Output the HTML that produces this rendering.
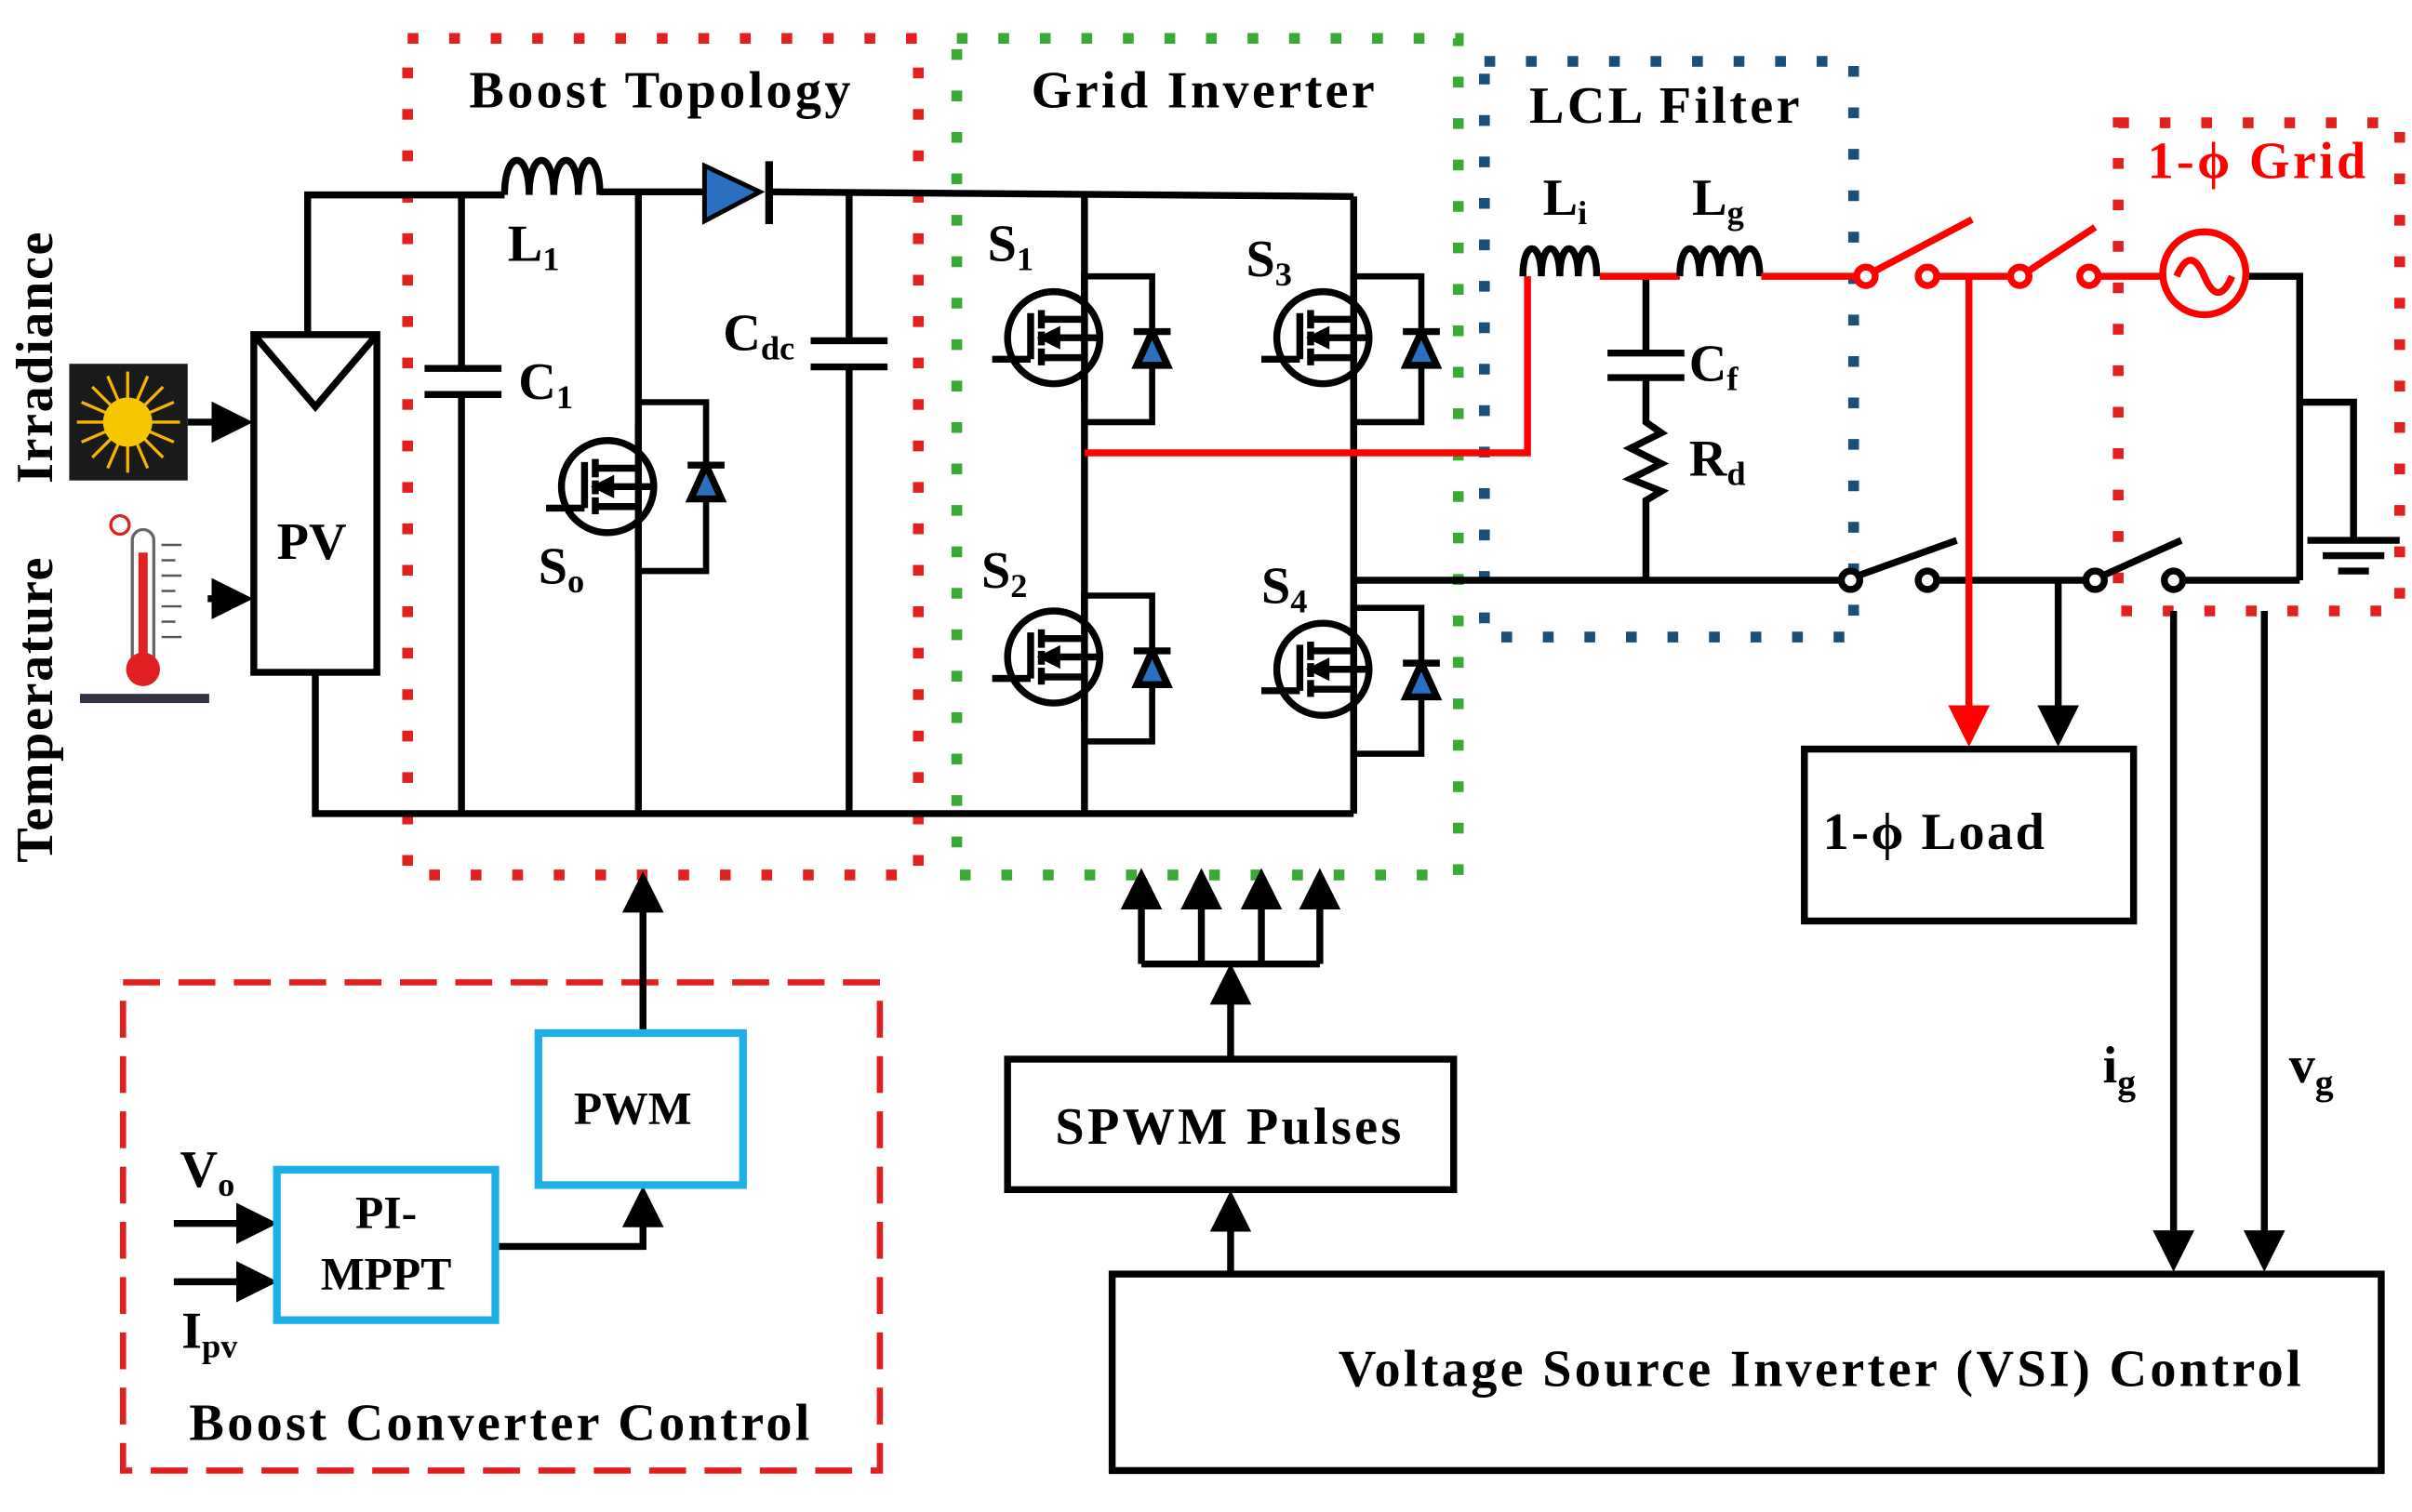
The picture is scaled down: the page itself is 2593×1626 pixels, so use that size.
<!DOCTYPE html>
<html><head><style>html,body{margin:0;padding:0;background:#fff}svg{display:block}text{font-family:"Liberation Serif",serif;font-weight:bold}</style></head>
<body>
<svg width="2593" height="1626" viewBox="0 0 1568 985" preserveAspectRatio="none" xmlns="http://www.w3.org/2000/svg">
<defs>
<marker id="ar" markerWidth="6" markerHeight="6" refX="5" refY="3" orient="auto" markerUnits="strokeWidth"><path d="M0,0 L6,3 L0,6 z" fill="#000"/></marker>
<marker id="arr" markerWidth="6" markerHeight="6" refX="5" refY="3" orient="auto" markerUnits="strokeWidth"><path d="M0,0 L6,3 L0,6 z" fill="#f00"/></marker>
<g id="sw" fill="none" stroke="#000" stroke-width="4.5">
<circle cx="-20" cy="0" r="30" fill="#fff"/>
<line x1="-60" y1="14" x2="-35" y2="14"/>
<line x1="-35" y1="-16" x2="-35" y2="14"/>
<line x1="-28" y1="-18" x2="-28" y2="-6"/><line x1="-28" y1="-4" x2="-28" y2="5"/><line x1="-28" y1="7" x2="-28" y2="18"/>
<line x1="-28" y1="-12" x2="0" y2="-12"/><line x1="-28" y1="0" x2="8" y2="0"/><line x1="-28" y1="13" x2="0" y2="13"/>
<path d="M-18,-4 L-26,0 L-18,4 z" fill="#000"/>
<line x1="0" y1="-42" x2="0" y2="42"/>
<polyline points="0,-40 44,-40 44,55 0,55" stroke-width="4"/>
<path d="M34,18 L54,18 L44,-4 z" fill="#2a6fc0"/>
<line x1="32" y1="-4" x2="56" y2="-4"/>
</g>
<g id="sw2" fill="none" stroke="#000" stroke-width="4.5">
<circle cx="-20" cy="0" r="30" fill="#fff"/>
<line x1="-60" y1="14" x2="-35" y2="14"/>
<line x1="-35" y1="-16" x2="-35" y2="14"/>
<line x1="-28" y1="-18" x2="-28" y2="-6"/><line x1="-28" y1="-4" x2="-28" y2="5"/><line x1="-28" y1="7" x2="-28" y2="18"/>
<line x1="-28" y1="-12" x2="0" y2="-12"/><line x1="-28" y1="0" x2="8" y2="0"/><line x1="-28" y1="13" x2="0" y2="13"/>
<path d="M-18,-4 L-26,0 L-18,4 z" fill="#000"/>
<line x1="0" y1="-42" x2="0" y2="42"/>
<polyline points="0,-55 44,-55 44,55 0,55" stroke-width="4"/>
<path d="M34,8 L54,8 L44,-14 z" fill="#2a6fc0"/>
<line x1="32" y1="-14" x2="56" y2="-14"/>
</g>
</defs>

<g fill="none" stroke-width="7" stroke-dasharray="7 20">
<rect x="265" y="25" width="332" height="545" stroke="#e32020"/>
<rect x="622" y="25" width="326" height="545" stroke="#3aa935"/>
<rect x="965" y="40" width="240" height="375" stroke="#1a4f7a"/>
<rect x="1377" y="80" width="183" height="318" stroke="#e32020"/>
</g>
<rect x="80" y="640" width="492" height="318" fill="none" stroke="#e02020" stroke-width="4" stroke-dasharray="24 12"/>

<g font-size="34" text-anchor="middle" letter-spacing="2">
<text x="430" y="70">Boost Topology</text>
<text x="783" y="70">Grid Inverter</text>
<text x="1083" y="80">LCL Filter</text>
<text x="1468" y="116" fill="#f00">1-ϕ Grid</text>
</g>

<g stroke="#000" stroke-width="4.5" fill="none">
<polyline points="200,218 200,127 328,127"/>
<line x1="390" y1="125" x2="458" y2="125"/>
<line x1="500" y1="125" x2="880" y2="128"/>
<polyline points="205,438 205,530 880,530"/>
<line x1="880" y1="128" x2="880" y2="530"/>
<line x1="705" y1="127" x2="705" y2="530"/>
<line x1="415" y1="127" x2="415" y2="530"/>
<path d="M328,127 c0,-30 16,-30 16,0 c0,-30 16,-30 16,0 c0,-30 16,-30 16,0 c0,-30 14,-30 14,0"/>
<line x1="300" y1="127" x2="300" y2="240"/><line x1="300" y1="257" x2="300" y2="530"/>
<line x1="276" y1="240" x2="326" y2="240"/><line x1="276" y1="257" x2="326" y2="257"/>
<line x1="552" y1="127" x2="552" y2="222"/><line x1="552" y1="239" x2="552" y2="530"/>
<line x1="527" y1="222" x2="577" y2="222"/><line x1="527" y1="239" x2="577" y2="239"/>
<rect x="165" y="218" width="80" height="220"/>
<polyline points="165,218 205,265 245,218"/>
<line x1="122" y1="275" x2="160" y2="275" marker-end="url(#ar)"/>
<line x1="135" y1="390" x2="160" y2="390" marker-end="url(#ar)"/>
<line x1="880" y1="378" x2="1203" y2="378"/>
<line x1="1253" y1="378" x2="1362" y2="378"/>
<line x1="1413" y1="378" x2="1495" y2="378"/>
<polyline points="1460,180 1495,180 1495,378"/>
<polyline points="1495,262 1530,262 1530,350"/>
<line x1="1500" y1="352" x2="1560" y2="352"/><line x1="1510" y1="362" x2="1550" y2="362"/><line x1="1520" y1="372" x2="1540" y2="372"/>
<line x1="1070" y1="180" x2="1070" y2="230"/>
<line x1="1045" y1="230" x2="1095" y2="230"/><line x1="1045" y1="246" x2="1095" y2="246"/>
<polyline points="1070,246 1070,275 1080,282 1060,292 1080,302 1060,312 1080,320 1070,326 1070,378"/>
<circle cx="1203" cy="378" r="6" fill="#fff"/><circle cx="1253" cy="378" r="6" fill="#fff"/>
<line x1="1208" y1="375" x2="1272" y2="352"/>
<circle cx="1362" cy="378" r="6" fill="#fff"/><circle cx="1413" cy="378" r="6" fill="#fff"/>
<line x1="1367" y1="375" x2="1418" y2="352"/>
<line x1="1338" y1="378" x2="1338" y2="482" marker-end="url(#ar)"/>
<line x1="1413" y1="398" x2="1413" y2="824" marker-end="url(#ar)"/>
<line x1="1472" y1="398" x2="1472" y2="824" marker-end="url(#ar)"/>
<rect x="1173" y="488" width="214" height="112"/>
<rect x="723" y="830" width="825" height="128"/>
<rect x="655" y="690" width="290" height="85"/>
<line x1="800" y1="830" x2="800" y2="780" marker-end="url(#ar)"/>
<line x1="800" y1="690" x2="800" y2="632" marker-end="url(#ar)"/>
<line x1="742" y1="628" x2="858" y2="628"/>
<line x1="742" y1="628" x2="742" y2="570" marker-end="url(#ar)"/>
<line x1="781" y1="628" x2="781" y2="570" marker-end="url(#ar)"/>
<line x1="820" y1="628" x2="820" y2="570" marker-end="url(#ar)"/>
<line x1="858" y1="628" x2="858" y2="570" marker-end="url(#ar)"/>
<line x1="418" y1="673" x2="418" y2="572" marker-end="url(#ar)"/>
<polyline points="322,812 418,812 418,777" marker-end="url(#ar)"/>
<line x1="113" y1="797" x2="176" y2="797" marker-end="url(#ar)"/>
<line x1="113" y1="835" x2="176" y2="835" marker-end="url(#ar)"/>
</g>
<path d="M458,108 L458,144 L494,125 z" fill="#2a6fc0" stroke="#000" stroke-width="3"/>
<line x1="500" y1="105" x2="500" y2="146" stroke="#000" stroke-width="5"/>
<rect x="350" y="673" width="133" height="99" fill="none" stroke="#1eaee8" stroke-width="5"/>
<rect x="180" y="762" width="142" height="98" fill="none" stroke="#1eaee8" stroke-width="5"/>

<use href="#sw2" x="415" y="317"/>
<use href="#sw" x="705" y="220"/>
<use href="#sw" x="705" y="428"/>
<use href="#sw" x="880" y="220"/>
<use href="#sw" x="880" y="436"/>

<g stroke="#f00" stroke-width="4.5" fill="none">
<polyline points="705,295 993,295 993,180"/>
<path d="M990,180 c0,-24 12,-24 12,0 c0,-24 12,-24 12,0 c0,-24 12,-24 12,0 c0,-24 12,-24 12,0" stroke="#000"/>
<line x1="1040" y1="180" x2="1092" y2="180"/>
<path d="M1092,180 c0,-24 13,-24 13,0 c0,-24 13,-24 13,0 c0,-24 13,-24 13,0 c0,-24 13,-24 13,0" stroke="#000"/>
<line x1="1145" y1="180" x2="1208" y2="180"/>
<line x1="1259" y1="180" x2="1308" y2="180"/>
<line x1="1363" y1="180" x2="1406" y2="180"/>
<circle cx="1213" cy="180" r="6" fill="#fff"/><circle cx="1253" cy="180" r="6" fill="#fff"/>
<line x1="1218" y1="177" x2="1282" y2="143"/>
<circle cx="1313" cy="180" r="6" fill="#fff"/><circle cx="1358" cy="180" r="6" fill="#fff"/>
<line x1="1318" y1="177" x2="1362" y2="148"/>
<circle cx="1433" cy="178" r="27" fill="#fff"/>
<path d="M1415,180 c6,-14 12,-14 18,0 c6,14 12,14 18,0"/>
<line x1="1280" y1="180" x2="1280" y2="482" marker-end="url(#arr)"/>
</g>

<rect x="45" y="237" width="77" height="76" fill="#1a1a1a"/>
<g stroke="#f7b500" stroke-width="2">
<line x1="50" y1="275" x2="117" y2="275"/><line x1="83" y1="242" x2="83" y2="308"/>
<line x1="60" y1="252" x2="106" y2="298"/><line x1="106" y1="252" x2="60" y2="298"/>
<line x1="53" y1="262" x2="113" y2="288"/><line x1="53" y1="288" x2="113" y2="262"/>
<line x1="70" y1="245" x2="96" y2="305"/><line x1="96" y1="245" x2="70" y2="305"/>
</g>
<circle cx="83" cy="275" r="16" fill="#f7c600"/>
<rect x="86" y="345" width="14" height="90" rx="7" fill="#fff" stroke="#666" stroke-width="2"/>
<rect x="90" y="360" width="6" height="75" fill="#e02020"/>
<circle cx="93" cy="436" r="11" fill="#e02020"/>
<circle cx="78" cy="342" r="6" fill="none" stroke="#e02020" stroke-width="2"/>
<g stroke="#555" stroke-width="1.5"><line x1="105" y1="355" x2="118" y2="355"/><line x1="105" y1="365" x2="114" y2="365"/><line x1="105" y1="375" x2="118" y2="375"/><line x1="105" y1="385" x2="114" y2="385"/><line x1="105" y1="395" x2="118" y2="395"/><line x1="105" y1="405" x2="114" y2="405"/><line x1="105" y1="415" x2="118" y2="415"/></g>
<rect x="52" y="452" width="84" height="6" fill="#334"/>

<g font-size="34">
<text transform="translate(34,315) rotate(-90)" letter-spacing="1">Irradiance</text>
<text transform="translate(34,562) rotate(-90)" letter-spacing="1">Temperature</text>
<text x="180" y="364">PV</text>
<text x="330" y="170">L<tspan font-size="22" dy="6">1</tspan></text>
<text x="337" y="260">C<tspan font-size="22" dy="6">1</tspan></text>
<text x="350" y="380">S<tspan font-size="22" dy="6">o</tspan></text>
<text x="470" y="228">C<tspan font-size="22" dy="6">dc</tspan></text>
<text x="642" y="170">S<tspan font-size="22" dy="6">1</tspan></text>
<text x="810" y="180">S<tspan font-size="22" dy="6">3</tspan></text>
<text x="638" y="383">S<tspan font-size="22" dy="6">2</tspan></text>
<text x="820" y="393">S<tspan font-size="22" dy="6">4</tspan></text>
<text x="1003" y="140">L<tspan font-size="22" dy="6">i</tspan></text>
<text x="1100" y="140">L<tspan font-size="22" dy="6">g</tspan></text>
<text x="1098" y="248">C<tspan font-size="22" dy="6">f</tspan></text>
<text x="1098" y="310">R<tspan font-size="22" dy="6">d</tspan></text>
<text x="1185" y="553" letter-spacing="1.5">1-ϕ Load</text>
<text x="1367" y="705">i<tspan font-size="24" dy="8">g</tspan></text>
<text x="1488" y="705">v<tspan font-size="24" dy="8">g</tspan></text>
<text x="870" y="903" letter-spacing="2">Voltage Source Inverter (VSI) Control</text>
<text x="686" y="745" letter-spacing="2">SPWM Pulses</text>
<text x="373" y="732" font-size="30">PWM</text>
<text x="251" y="800" font-size="30" text-anchor="middle">PI-</text>
<text x="251" y="840" font-size="30" text-anchor="middle">MPPT</text>
<text x="117" y="773">V<tspan font-size="22" dy="6">o</tspan></text>
<text x="118" y="878">I<tspan font-size="22" dy="6">pv</tspan></text>
<text x="123" y="938" letter-spacing="2">Boost Converter Control</text>
</g>
</svg>
</body></html>
